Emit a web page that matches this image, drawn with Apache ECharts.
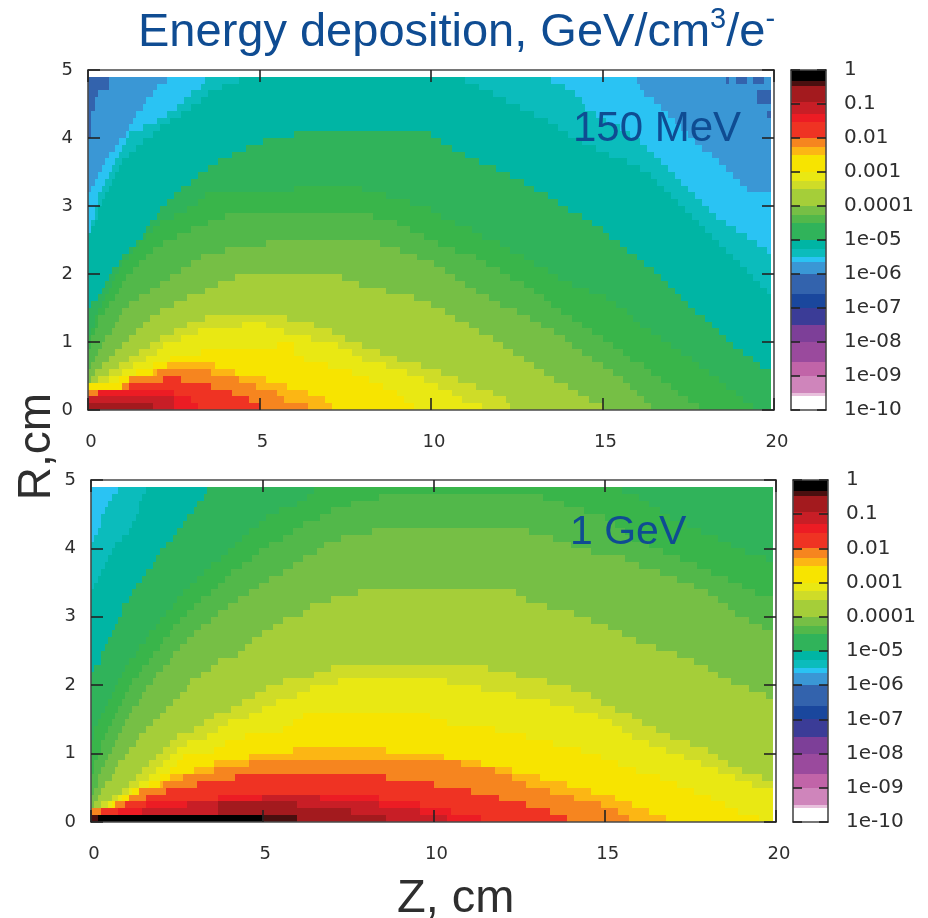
<!DOCTYPE html>
<html><head><meta charset="utf-8">
<style>html,body{margin:0;padding:0;background:#fff}#c{width:928px;height:918px;filter:blur(0.6px)}</style>
<script src="https://cdn.jsdelivr.net/npm/echarts@6/dist/echarts.min.js"></script>
</head><body><div id="c"></div>
<script>
// Band codes used in the two maps and their colours
const bandCodes = ['K','X','D','C','R','O','N','A','Y','W','L','G','H','I','J','E','T','U','S','B','V'];
const bandColors = ['#000000','#4a0f0f','#a31a1e','#c81e26','#ec1c24','#ef3323','#f6851f','#fcb614','#f7e400','#e9e813','#cfdc28','#a5ce39','#76bf45','#52b84a','#39b54a','#30b35a','#00b5a4','#0bbcbc','#2ac3f3','#3a97d5','#3363ad'];

// Each string is one R row (0.1 cm tall, from R=0 upward): band code + Z where that band ends (in mm)
const rows150MeV = [
'D19 C25 R32 O50 N64 A71 Y95 W115 L123 G150 H164 I178 J194 E199',
'C25 R30 O47 N57 A69 Y92 W109 L122 G146 H162 I175 J191 E199',
'N3 R25 O42 N55 A64 Y90 W106 L118 G143 H160 I172 J189 E199',
'Y10 N12 O36 N49 A58 Y86 W102 L113 G140 H158 I170 J186 E199',
'H1 G3 L6 W9 Y12 N22 O27 N44 A52 Y82 W98 L108 G136 H156 I167 J184 E199',
'H2 G6 L10 W14 Y19 A20 N36 A43 Y77 W93 L103 G133 H153 I164 J181 E199',
'I1 H4 G9 L13 W19 Y23 A37 Y70 W87 L97 G130 H150 I162 J178 E196 T199',
'I2 H6 G12 L17 W24 Y63 W80 L90 G127 H147 I158 J176 E194 T199',
'I3 H8 G15 L20 W33 Y60 W77 L85 G124 H144 I156 J173 E191 T199',
'J1 I4 H10 G18 L22 W55 Y60 W73 L80 G121 H141 I153 J170 E188 T199',
'J1 I5 H12 G21 L27 W65 L75 G118 H139 I150 J167 E186 T199',
'E1 J2 I7 H14 G25 L32 W57 L71 G114 H136 I147 J164 E184 T199',
'E2 J3 I8 H16 G29 L45 W52 L66 G111 H132 I144 J161 E182 T199',
'E2 J3 I9 H18 G34 L58 G107 H129 I141 J159 E180 T199',
'E3 J5 I10 H21 G104 H125 I138 J157 E177 T199',
'T1 E4 J6 I12 H25 G100 H120 I135 J154 E175 T199',
'T3 E5 J8 I15 H29 G95 H117 I133 J151 E173 T199',
'T4 E6 J9 I18 H34 G87 H113 I130 J146 E171 T198 U199',
'T5 E7 J10 I21 H38 G79 H110 I127 J141 E169 T196 U199',
'T6 E8 J11 I24 H43 G74 H107 I123 J137 E167 T194 U199',
'T7 E9 J13 I27 H104 I120 J134 E165 T192 U199',
'T9 E10 J15 I30 H101 I116 J130 E162 T190 U199',
'T10 E12 J17 I33 H96 I113 J127 E160 T188 U199',
'T12 E13 J19 I40 H91 I107 J123 E157 T186 U198 S199',
'T14 E15 J22 I52 H85 I102 J120 E155 T184 U195 S199',
'T16 E17 J26 I98 J115 E152 T182 U192 S199',
'S1 T17 E19 J30 I94 J112 E150 T180 U189 S199',
'S1 U2 T18 E21 J35 I90 J107 E147 T178 U186 S199',
'S2 U3 T20 E25 J40 I83 J103 E144 T176 U183 S199',
'S2 U3 T21 E29 J100 E140 T174 U181 S199',
'S3 U4 T23 E32 J94 E137 T172 U179 S199',
'S3 U5 T25 E34 J87 E134 T170 U177 S199',
'B1 S4 U6 T27 E60 J80 E130 T168 U175 S192 B199',
'B2 S5 U7 T30 E127 T166 U173 S190 B199',
'B3 S6 U8 T32 E123 T164 U171 S188 B199',
'B4 S7 U9 T35 E119 T161 U169 S186 B199',
'B5 S8 U10 T38 E114 T157 U167 S184 B199',
'B6 S9 U12 T42 E110 T152 U165 S182 B199',
'B8 S10 U14 T46 E106 T148 U163 S179 B199',
'B9 S11 U16 T51 E103 T144 U161 S177 B199',
'V1 B11 S12 U19 T60 E100 T140 U158 S175 B199',
'V1 B12 S16 U21 T137 U155 S173 B199',
'V1 B13 S20 U24 T134 U151 S171 B199',
'V1 B14 S23 U27 T130 U148 S169 B198 V199',
'V2 B16 S26 U30 T126 U145 S167 B199',
'V2 B17 S28 U33 T122 U144 S165 B195 V199',
'V3 B19 S30 U35 T118 U142 S162 B195 V199',
'V6 B20 S33 U39 T114 U139 S161 B199',
'V6 B23 S34 U44 T110 U135 S160 B186 V187 B189 V192 B194 V197 B199'
];

const rows1GeV = [
'X2 K50 X60 D86 C104 R114 O139 N157 A168 Y195 W199',
'N3 O8 R15 C37 D76 C96 R105 O134 N154 A163 Y189 W199',
'H1 G3 L5 W6 Y7 N10 O16 R28 C37 D60 C84 R96 O127 N149 A158 Y185 W199',
'H2 G6 L8 W9 Y11 N16 O37 R50 C67 R84 O119 N141 A153 Y181 W199',
'I1 H3 G9 L11 W12 Y14 N22 O111 N134 A146 Y176 W199',
'I2 H4 G11 L14 W17 Y20 A21 N31 O100 N127 A139 Y171 W193 L199',
'I2 H6 G13 L17 W20 Y23 A27 N42 O86 N123 A131 Y166 W188 L196 G199',
'J1 I3 H7 G15 L19 W23 Y30 A36 N118 A123 Y159 W183 L190 G199',
'J1 I4 H8 G17 L21 W25 Y36 A46 N108 A114 Y154 W178 L186 G199',
'J2 I5 H10 G19 L23 W27 Y46 A103 Y149 W173 L183 G199',
'J3 I6 H11 G21 L25 W36 Y59 A86 Y143 W168 L180 G199',
'J3 I7 H13 G23 L28 W39 Y135 W163 L175 G199',
'E1 J4 I8 H14 G25 L34 W45 Y127 W158 L169 G199',
'E1 J5 I9 H16 G30 L37 W56 Y118 W155 L165 G199',
'E2 J6 I10 H18 G33 L40 W59 Y104 W152 L161 G199',
'E3 J7 I11 H20 G36 L46 W62 Y99 W148 L158 G199',
'E4 J8 I12 H22 G41 L50 W141 L153 G199',
'E5 J9 I14 H24 G44 L54 W134 L149 G199',
'E6 J10 I15 H26 G48 L60 W124 L146 G197 H199',
'E7 J11 I16 H28 G51 L64 W114 L140 G192 H199',
'E8 J12 I18 H29 G56 L72 W104 L133 G187 H199',
'E9 J14 I19 H32 G65 L124 G183 H199',
'T1 E10 J15 I21 H35 G70 L116 G180 H199',
'T3 E11 J17 I23 H37 G176 H199',
'T3 E13 J18 I24 H43 G171 H199',
'T4 E14 J20 I26 H45 G165 H199',
'T5 E16 J21 I28 H47 G159 H199',
'T6 E17 J23 I30 H50 G155 H199',
'T7 E19 J24 I32 H53 G151 H196 I199',
'T8 E20 J26 I35 H56 G146 H192 I199',
'T9 E22 J28 I37 H62 G141 H188 I199',
'T9 E24 J30 I40 H64 G133 H186 I199',
'T11 E25 J32 I43 H70 G127 H183 I199',
'T12 E27 J35 I46 H78 G124 H180 I194 J199',
'U1 T13 E29 J37 I49 H176 I190 J199',
'U2 T15 E31 J39 I52 H171 I186 J199',
'U3 T16 E33 J41 I56 H166 I181 J199',
'U4 T18 E35 J44 I59 H160 I177 J199',
'U5 T19 E38 J47 I62 H156 I172 J197 E199',
'U6 T20 E40 J49 I66 H146 I167 J191 E199',
'U7 T22 E42 J52 I68 H140 I163 J187 E199',
'S1 U9 T24 E44 J56 I73 H135 I158 J183 E199',
'S2 U11 T25 E46 J59 I82 H128 I156 J178 E199',
'S3 U12 T27 E49 J62 I153 J174 E199',
'S3 U13 T28 E51 J67 I150 J169 E199',
'S4 U14 T30 E55 J70 I144 J166 E199',
'S5 U14 T31 E60 J76 I138 J163 E199',
'S6 U15 T33 E63 J84 I132 J160 E199',
'S8 U16 T34 E65 J155 E199'
];

// Colour bar: log10 of each band's upper edge, and its colour
const barTopExp = [0,-0.31,-0.46,-0.95,-1.3,-1.54,-2,-2.27,-2.51,-3,-3.26,-3.51,-4,-4.26,-4.5,-5,-5.25,-5.5,-5.65,-6,-6.6,-7,-7.5,-8,-8.6,-9,-9.5,-9.6];
const barColors = ['#000000','#4a0f0f','#a31a1e','#c81e26','#ec1c24','#ef3323','#f6851f','#fcb614','#f7e400','#e9e813','#cfdc28','#a5ce39','#76bf45','#52b84a','#30b35a','#00b5a4','#0bbcbc','#2ac3f3','#3a97d5','#3363ad','#1a479d','#3b3c97','#7d3f98','#9a4a9d','#c164a8','#cf85bb','#e8c0dc','#ffffff'];
const barFloorExp = -10;

const zTicks = {min:0, max:20, step:5};
const rTicks = {min:0, max:5, step:1};
const barLabels = {'0':'1','-1':'0.1','-2':'0.01','-3':'0.001','-4':'0.0001','-5':'1e-05','-6':'1e-06','-7':'1e-07','-8':'1e-08','-9':'1e-09','-10':'1e-10'};

const titleText = '{a|Energy deposition, GeV/cm}{s|3}{a|/e}{s|-}';
const panelNames = ['150 MeV','1 GeV'];
const zName = 'Z, cm', rName = 'R,cm';

function cells(rows){
  const out=[];
  rows.forEach((row,i)=>{
    let start=0;
    row.split(' ').forEach(tok=>{
      const code=tok[0], end=+tok.slice(1);
      out.push([start/10,end/10,i/10,(i+1)/10,bandCodes.indexOf(code)]);
      start=end;
    });
  });
  return out;
}
function barCells(){
  return barColors.map((c,i)=>{
    const hi=barTopExp[i], lo=i+1<barTopExp.length?barTopExp[i+1]:barFloorExp;
    return [0,1,lo,hi,i];
  });
}
function renderer(palette){
  return function(params,api){
    const a=api.coord([api.value(0),api.value(2)]);
    const b=api.coord([api.value(1),api.value(3)]);
    const x0=Math.round(Math.min(a[0],b[0])),x1=Math.round(Math.max(a[0],b[0]));
    const y0=Math.round(Math.min(a[1],b[1])),y1=Math.round(Math.max(a[1],b[1]));
    return {type:'rect',shape:{x:x0,y:y0,width:x1-x0,height:y1-y0},style:{fill:palette[api.value(4)]}};
  };
}

const frame='#4a4a4a', ink='#2e2e2e', blue='#0f4c92';
const line={show:true,onZero:false,lineStyle:{color:frame,width:1.6}};
const label={color:ink,fontFamily:'DejaVu Sans',fontSize:18};
const mapBoxes=[{left:88,top:70,width:686,height:340,outerBoundsMode:'none'},{left:91,top:480,width:685,height:342,outerBoundsMode:'none'}];
const barBoxes=[{left:791,top:70,width:35,height:340,outerBoundsMode:'none'},{left:793,top:480,width:35,height:342,outerBoundsMode:'none'}];

const grid=[],xAxis=[],yAxis=[],series=[];
function addMap(box,rows,gi){
  grid.push(box);
  const xi=xAxis.length, yi=yAxis.length;
  const base={type:'value',gridIndex:gi,z:6,splitLine:{show:false},axisLine:line,
    axisTick:{show:true,inside:true,length:12,lineStyle:{color:'#222',width:1.6}}};
  xAxis.push({...base,position:'bottom',min:zTicks.min,max:zTicks.max,interval:zTicks.step,axisLabel:{...label,margin:23,padding:[0,0,0,6]}});
  xAxis.push({...base,position:'top',min:zTicks.min,max:zTicks.max,interval:zTicks.step,axisLabel:{show:false}});
  yAxis.push({...base,position:'left',min:rTicks.min,max:rTicks.max,interval:rTicks.step,axisLabel:{...label,margin:15,padding:[4,0,0,0]}});
  yAxis.push({...base,position:'right',min:rTicks.min,max:rTicks.max,interval:rTicks.step,axisLabel:{show:false}});
  series.push({type:'custom',xAxisIndex:xi,yAxisIndex:yi,coordinateSystem:'cartesian2d',clip:true,silent:true,
    encode:{x:[0,1],y:[2,3]},renderItem:renderer(bandColors),data:cells(rows)});
}
function addBar(box,gi){
  grid.push(box);
  const xi=xAxis.length, yi=yAxis.length;
  const xb={type:'value',gridIndex:gi,z:6,min:0,max:1,splitLine:{show:false},axisLine:line,axisTick:{show:false},axisLabel:{show:false}};
  xAxis.push({...xb,position:'bottom'});
  xAxis.push({...xb,position:'top'});
  const yb={type:'value',gridIndex:gi,z:6,min:barFloorExp,max:0,interval:1,splitLine:{show:false},axisLine:line,
    axisTick:{show:true,inside:true,length:9,lineStyle:{color:'#222',width:1.6}}};
  yAxis.push({...yb,position:'left',axisLabel:{show:false}});
  yAxis.push({...yb,position:'right',axisLabel:{...label,fontSize:20,margin:18,align:'left',padding:[4,0,0,0],
    formatter:v=>barLabels[String(Math.round(v))]||''}});
  series.push({type:'custom',xAxisIndex:xi,yAxisIndex:yi,coordinateSystem:'cartesian2d',clip:true,silent:true,
    encode:{x:[0,1],y:[2,3]},renderItem:renderer(barColors),data:barCells()});
}
addMap(mapBoxes[0],rows150MeV,0);
addMap(mapBoxes[1],rows1GeV,1);
addBar(barBoxes[0],2);
addBar(barBoxes[1],3);

const chart=echarts.init(document.getElementById('c'),null,{renderer:'canvas'});
chart.setOption({
  animation:false,backgroundColor:'#fff',
  title:{text:titleText,left:133,top:0,textStyle:{fontWeight:'normal',rich:{
    a:{fontFamily:'Liberation Sans',fontWeight:'normal',fontSize:47,color:blue,lineHeight:52,verticalAlign:'bottom'},
    s:{fontFamily:'Liberation Sans',fontWeight:'normal',fontSize:29,color:blue,lineHeight:52,verticalAlign:'top'}}}},
  grid,xAxis,yAxis,series,
  graphic:[
    {type:'text',z:20,left:573,top:108,style:{text:panelNames[0],fontFamily:'Liberation Sans',fontSize:42,fill:blue}},
    {type:'text',z:20,left:570,top:512,style:{text:panelNames[1],fontFamily:'Liberation Sans',fontSize:41,fill:blue}},
    {type:'text',z:20,rotation:Math.PI/2,left:14,top:393,style:{text:rName,fontFamily:'Liberation Sans',fontSize:46,fill:ink}},
    {type:'text',z:20,left:397,top:876,style:{text:zName,fontFamily:'Liberation Sans',fontSize:47,fill:ink}}
  ]
});
</script></body></html>
